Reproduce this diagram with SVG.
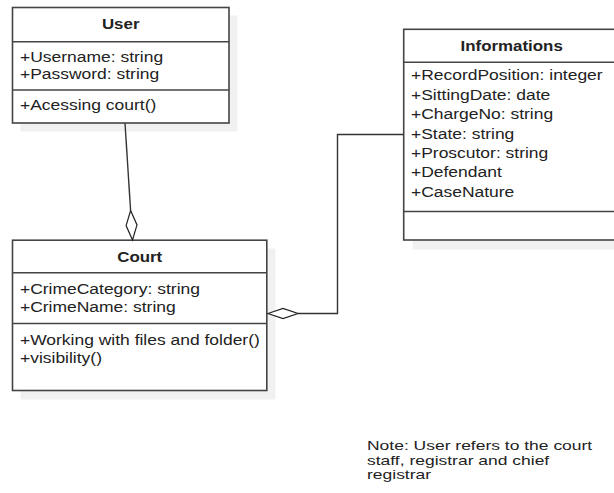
<svg xmlns="http://www.w3.org/2000/svg" width="614" height="493" viewBox="0 0 614 493">
<style>
.bg{fill:#ffffff}
.shadow{fill:#f1f1f1;stroke:none}
.box{fill:#ffffff;stroke:#444444;stroke-width:1.6}
.div{stroke:#444444;stroke-width:1.6}
.t{font-family:"Liberation Sans",Arial,sans-serif;font-size:15px;fill:#222222}
.note{font-family:"Liberation Sans",Arial,sans-serif;font-size:13px;fill:#222222}
.title{font-family:"Liberation Sans",Arial,sans-serif;font-size:14.5px;font-weight:bold;fill:#222222;text-anchor:middle}
.conn{fill:none;stroke:#333333;stroke-width:1.4}
.dia{fill:#ffffff;stroke:#222222;stroke-width:1.2}
</style>
<rect class="bg" x="0" y="0" width="614" height="493"/>

<g id="user">
  <rect class="shadow" x="20.5" y="15.5" width="217" height="116"/>
  <rect class="box" x="12.5" y="7.5" width="216.5" height="115.5"/>
  <line class="div" x1="12.5" y1="41.7" x2="229" y2="41.7"/>
  <line class="div" x1="12.5" y1="90" x2="229" y2="90"/>
  <text class="title" transform="translate(120.7,29.3) scale(1.165,1)">User</text>
  <text class="t" transform="translate(20,61.5) scale(1.165,1)">+Username: string</text>
  <text class="t" transform="translate(20,79.3) scale(1.165,1)">+Password: string</text>
  <text class="t" transform="translate(20,109.5) scale(1.165,1)">+Acessing court()</text>
</g>

<g id="court">
  <rect class="shadow" x="20.5" y="248.5" width="255" height="151"/>
  <rect class="box" x="12.5" y="240.2" width="254.3" height="150.3"/>
  <line class="div" x1="12.5" y1="272.7" x2="266.8" y2="272.7"/>
  <line class="div" x1="12.5" y1="323.5" x2="266.8" y2="323.5"/>
  <text class="title" transform="translate(139.7,261.8) scale(1.165,1)">Court</text>
  <text class="t" transform="translate(20,294) scale(1.165,1)">+CrimeCategory: string</text>
  <text class="t" transform="translate(20,311.7) scale(1.165,1)">+CrimeName: string</text>
  <text class="t" transform="translate(20,344.8) scale(1.165,1)">+Working with files and folder()</text>
  <text class="t" transform="translate(20,362.5) scale(1.165,1)">+visibility()</text>
</g>

<g id="informations">
  <rect class="shadow" x="412.5" y="37.5" width="220" height="212"/>
  <rect class="box" x="403.7" y="29.3" width="220" height="210.7"/>
  <line class="div" x1="403.7" y1="62.2" x2="624" y2="62.2"/>
  <line class="div" x1="403.7" y1="211.5" x2="624" y2="211.5"/>
  <text class="title" transform="translate(511.7,51.3) scale(1.165,1)">Informations</text>
  <text class="t" transform="translate(411,80.3) scale(1.165,1)">+RecordPosition: integer</text>
  <text class="t" transform="translate(411,99.7) scale(1.165,1)">+SittingDate: date</text>
  <text class="t" transform="translate(411,119.1) scale(1.165,1)">+ChargeNo: string</text>
  <text class="t" transform="translate(411,138.5) scale(1.165,1)">+State: string</text>
  <text class="t" transform="translate(411,157.9) scale(1.165,1)">+Proscutor: string</text>
  <text class="t" transform="translate(411,177.3) scale(1.165,1)">+Defendant</text>
  <text class="t" transform="translate(411,196.7) scale(1.165,1)">+CaseNature</text>
</g>

<g id="connectors">
  <path class="conn" d="M125,123 L130.6,210.5"/>
  <polygon class="dia" points="132.5,240 137,224.9 130.6,210.5 126.1,225.6"/>
  <path class="conn" d="M298,313.5 H337.5 V134.5 H403.7"/>
  <polygon class="dia" points="268,313.5 283,308.5 298,313.5 283,318.5"/>
</g>

<g id="note">
  <text class="note" transform="translate(367,450) scale(1.345,1)">Note: User refers to the court</text>
  <text class="note" transform="translate(367,464.5) scale(1.345,1)">staff, registrar and chief</text>
  <text class="note" transform="translate(367,479) scale(1.345,1)">registrar</text>
</g>
</svg>
